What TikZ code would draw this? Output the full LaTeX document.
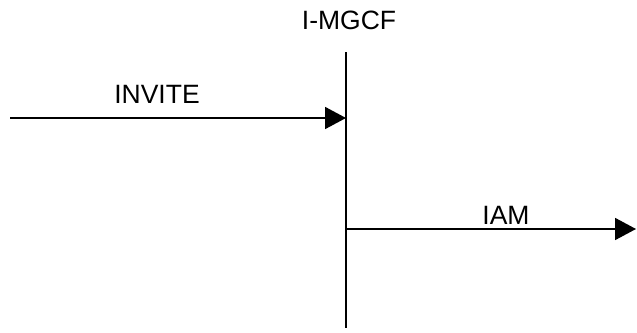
\documentclass[tikz,border=0pt]{standalone}
\usepackage{fontspec}
\setmainfont{Liberation Sans}
\usetikzlibrary{arrows.meta}
\begin{document}
\begin{tikzpicture}[x=1pt,y=-1pt,
  msg/.style={line width=1.8pt,-{Triangle[length=21pt,width=22pt]}},
  lifeline/.style={line width=1.8pt},
  lbl/.style={font=\fontsize{26.5}{30}\selectfont,inner sep=0pt,anchor=base}]
\useasboundingbox (0,0) rectangle (637,332);
% entity and its lifeline
\node[lbl] (mgcf) at (349,29) {I-MGCF};
\coordinate (top) at (346,52);
\coordinate (bot) at (346,328);
\draw[lifeline] (top) -- (bot);
% incoming INVITE
\coordinate (src) at (10,118);
\coordinate (inv) at (346,118);
\draw[msg] (src) -- (inv);
\node[lbl] (invite) at (157,103) {INVITE};
% outgoing IAM
\coordinate (out) at (346,229);
\coordinate (dst) at (636,229);
\draw[msg] (out) -- (dst);
\node[lbl] (iam) at (506,224) {IAM};
\end{tikzpicture}
\end{document}
